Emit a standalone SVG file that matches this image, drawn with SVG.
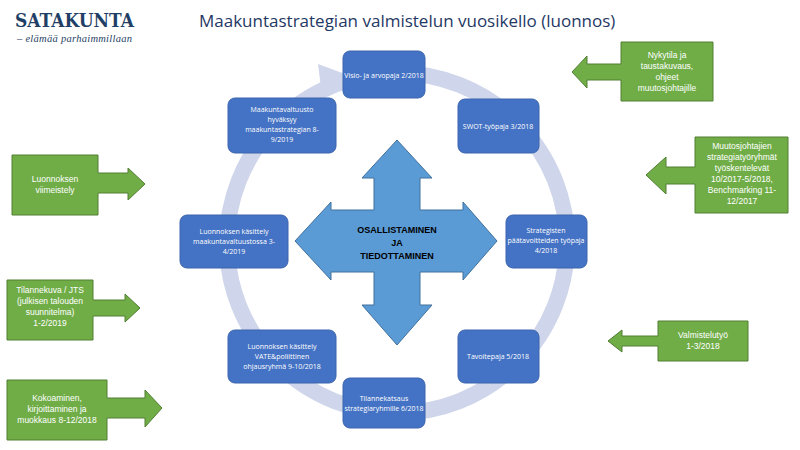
<svg xmlns="http://www.w3.org/2000/svg" width="800" height="450" viewBox="0 0 800 450">
<style>
.n{fill:#4472c4;stroke:#3a64ad;stroke-width:1}
.nt{font-family:"Open Sans","Liberation Sans",sans-serif;font-size:7px;fill:#fff;text-anchor:middle}
.g{fill:#70ad47;stroke:#507e32;stroke-width:1}
.gt{font-family:"Liberation Sans",sans-serif;font-size:8.5px;fill:#fff;text-anchor:middle}
</style>
<rect width="800" height="450" fill="#fff"/>
<text x="15" y="27" font-family="'DejaVu Serif','Liberation Serif',serif" font-weight="bold" font-size="18" fill="#1f3f66" textLength="119" lengthAdjust="spacingAndGlyphs">SATAKUNTA</text>
<text x="17" y="42" font-family="'Liberation Serif',serif" font-style="italic" font-size="10.5" fill="#1f3f66" textLength="115">– elämää parhaimmillaan</text>
<text x="199" y="27" font-family="'Open Sans','Liberation Sans',sans-serif" font-size="17" fill="#1f3864">Maakuntastrategian valmistelun vuosikello (luonnos)</text>
<g id="ring">
<circle cx="397" cy="243" r="170" fill="none" stroke="#cfd5ea" stroke-width="16"/>
<polygon points="318,64 345,74 322,96" fill="#cfd5ea"/>
</g>
<g id="center">
<polygon points="397,140 432,178 420,178 420,210 463,210 463,202 497,241 463,280 463,272 420,272 420,305 432,305 397,345 362,305 374,305 374,272 331,272 331,280 295,241 331,202 331,210 374,210 374,178 362,178" fill="#5b9bd5" stroke="#41719c"/>
<text x="397" y="233" font-family="'Liberation Sans',sans-serif" font-weight="bold" font-size="9" fill="#000" text-anchor="middle">OSALLISTAMINEN</text>
<text x="397" y="246" font-family="'Liberation Sans',sans-serif" font-weight="bold" font-size="9" fill="#000" text-anchor="middle">JA</text>
<text x="397" y="259" font-family="'Liberation Sans',sans-serif" font-weight="bold" font-size="9" fill="#000" text-anchor="middle">TIEDOTTAMINEN</text>
</g>
<g id="visio"><rect class="n" x="343" y="51" width="82" height="47" rx="7"/><text class="nt" x="384" y="78">Visio- ja arvopaja 2/2018</text></g>
<g id="swot"><rect class="n" x="458" y="99" width="81" height="54" rx="7"/><text class="nt" x="498" y="129">SWOT-työpaja 3/2018</text></g>
<g id="strateg"><rect class="n" x="506" y="215" width="81" height="53" rx="7"/><text class="nt" x="546" y="233">Strategisten</text><text class="nt" x="546" y="243">päätavoitteiden työpaja</text><text class="nt" x="546" y="253">4/2018</text></g>
<g id="tavoite"><rect class="n" x="458" y="330" width="81" height="53" rx="7"/><text class="nt" x="498" y="359">Tavoitepaja 5/2018</text></g>
<g id="tilanne"><rect class="n" x="343" y="378" width="82" height="50" rx="7"/><text class="nt" x="384" y="401">Tilannekatsaus</text><text class="nt" x="384" y="411">strategiaryhmille  6/2018</text></g>
<g id="vate"><rect class="n" x="228" y="330" width="108" height="53" rx="7"/><text class="nt" x="282" y="349">Luonnoksen käsittely</text><text class="nt" x="282" y="359">VATE&amp;poliittinen</text><text class="nt" x="282" y="369">ohjausryhmä  9-10/2018</text></g>
<g id="valtuusto"><rect class="n" x="180" y="215" width="108" height="53" rx="7"/><text class="nt" x="234" y="234">Luonnoksen käsittely</text><text class="nt" x="234" y="244">maakuntavaltuustossa  3-</text><text class="nt" x="234" y="254">4/2019</text></g>
<g id="hyvaksyy"><rect class="n" x="228" y="98" width="108" height="55" rx="7"/><text class="nt" x="282" y="112">Maakuntavaltuusto</text><text class="nt" x="282" y="122">hyväksyy</text><text class="nt" x="282" y="132">maakuntastrategian  8-</text><text class="nt" x="282" y="142">9/2019</text></g>
<g id="nykytila"><polygon class="g" points="713,42 713,101 621,101 621,80 587,80 587,88 572,72 587,56 587,64 621,64 621,42"/><text class="gt" x="667" y="58">Nykytila ja</text><text class="gt" x="667" y="69">taustakuvaus,</text><text class="gt" x="667" y="80">ohjeet</text><text class="gt" x="667" y="91">muutosjohtajille</text></g>
<g id="muutos"><polygon class="g" points="788,137 788,213 695,213 695,184 666,184 666,194 646,175 666,157 666,167 695,167 695,137"/><text class="gt" x="742" y="149">Muutosjohtajien</text><text class="gt" x="742" y="160">strategiatyöryhmät</text><text class="gt" x="742" y="171">työskentelevät</text><text class="gt" x="742" y="182">10/2017-5/2018,</text><text class="gt" x="742" y="193">Benchmarking 11-</text><text class="gt" x="742" y="204">12/2017</text></g>
<g id="valmistelu"><polygon class="g" points="748,321 748,361 658,361 658,346 622,346 622,352 608,341 622,330 622,336 658,336 658,321"/><text class="gt" x="703" y="338">Valmistelutyö</text><text class="gt" x="703" y="349">1-3/2018</text></g>
<g id="viimeistely"><polygon class="g" points="12,155 98,155 98,173 128,173 128,168 145,184 128,200 128,193 98,193 98,215 12,215"/><text class="gt" x="55" y="182">Luonnoksen</text><text class="gt" x="55" y="193">viimeistely</text></g>
<g id="tilannekuva"><polygon class="g" points="7,280 93,280 93,300 125,300 125,294 140,308 125,322 125,316 93,316 93,340 7,340"/><text class="gt" x="50" y="293">Tilannekuva / JTS</text><text class="gt" x="50" y="304">(julkisen talouden</text><text class="gt" x="50" y="315">suunnitelma)</text><text class="gt" x="50" y="326">1-2/2019</text></g>
<g id="kokoaminen"><polygon class="g" points="7,380 107,380 107,398 145,398 145,390 162,408 145,427 145,418 107,418 107,440 7,440"/><text class="gt" x="57" y="401">Kokoaminen,</text><text class="gt" x="57" y="412">kirjoittaminen ja</text><text class="gt" x="57" y="423">muokkaus 8-12/2018</text></g>
</svg>
